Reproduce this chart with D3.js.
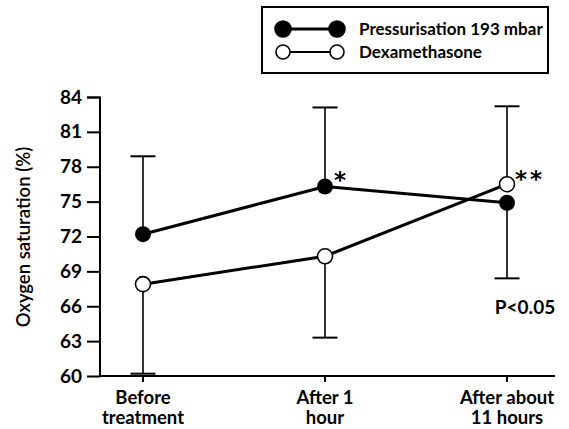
<!DOCTYPE html>
<html><head><meta charset="utf-8">
<script src="https://cdn.jsdelivr.net/npm/d3@7"></script>
<style>body{margin:0;background:#fff}svg{display:block}</style>
</head><body>
<script>
const categories = [["Before","treatment"],["After 1","hour"],["After about","11 hours"]];
const pressValues = [72.2, 76.3, 74.9];
const pressUpper = [78.9, 83.1, null];
const pressLower = [null, null, 68.4];
const dexaValues = [67.9, 70.3, 76.5];
const dexaUpper = [null, null, 83.2];
const dexaLower = [60.2, 63.3, null];
const yTicks = [60,63,66,69,72,75,78,81,84];
const seriesNames = ["Pressurisation 193 mbar","Dexamethasone"];
const annotations = [{i:1, text:"*"},{i:2, text:"**"}];
const pText = "P<0.05";

const W=569,H=429;
const font = "Lato, 'Open Sans', sans-serif";
const svg = d3.select("body").append("svg").attr("width",W).attr("height",H);
const x = d3.scalePoint().domain(d3.range(3)).range([143,507]);
const y = d3.scaleLinear().domain([60,84]).range([376,97]);

// axes
const yAxis = d3.axisLeft(y).tickValues(yTicks).tickSize(13).tickPadding(5);
const gy = svg.append("g").attr("transform","translate(100,0)").call(yAxis);
gy.select(".domain").attr("stroke-width",2).attr("d","M-13,97.5H0V376");
gy.selectAll(".tick line").attr("stroke-width",2);
gy.selectAll(".tick text").attr("font-family",font).attr("font-size",19).attr("font-weight","bold").attr("fill","#000");

svg.append("line").attr("x1",100).attr("x2",555).attr("y1",376).attr("y2",376).attr("stroke","#000").attr("stroke-width",2);
categories.forEach((c,i)=>{
  svg.append("line").attr("x1",x(i)).attr("x2",x(i)).attr("y1",376).attr("y2",382).attr("stroke","#000").attr("stroke-width",2);
  const t = svg.append("text").attr("x",x(i)).attr("text-anchor","middle").attr("font-family",font).attr("font-size",18.5).attr("font-weight","bold");
  t.append("tspan").attr("x",x(i)).attr("y",404).text(c[0]);
  t.append("tspan").attr("x",x(i)).attr("y",424).text(c[1]);
});

svg.append("text").attr("transform","translate(30,237) rotate(-90)").attr("text-anchor","middle")
  .attr("font-family",font).attr("font-size",18.5).attr("font-weight","600").text("Oxygen saturation (%)");

// error bars
function errBars(vals, ups, lows){
  vals.forEach((v,i)=>{
    [ups[i], lows[i]].forEach(e=>{
      if(e==null) return;
      svg.append("line").attr("x1",x(i)).attr("x2",x(i)).attr("y1",y(v)).attr("y2",y(e)).attr("stroke","#000").attr("stroke-width",1.6);
      svg.append("line").attr("x1",x(i)-12.5).attr("x2",x(i)+12.5).attr("y1",y(e)).attr("y2",y(e)).attr("stroke","#000").attr("stroke-width",2);
    });
  });
}
errBars(pressValues, pressUpper, pressLower);
errBars(dexaValues, dexaUpper, dexaLower);

const line = d3.line().x((d,i)=>x(i)).y(d=>y(d));
svg.append("path").attr("d",line(pressValues)).attr("fill","none").attr("stroke","#000").attr("stroke-width",3);
svg.append("path").attr("d",line(dexaValues)).attr("fill","none").attr("stroke","#000").attr("stroke-width",3);
svg.selectAll(".pp").data(pressValues).enter().append("circle").attr("cx",(d,i)=>x(i)).attr("cy",d=>y(d)).attr("r",8).attr("fill","#000");
svg.selectAll(".dp").data(dexaValues).enter().append("circle").attr("cx",(d,i)=>x(i)).attr("cy",d=>y(d)).attr("r",7.5).attr("fill","#fff").attr("stroke","#000").attr("stroke-width",1.6);

// annotations
const afont = "'DejaVu Sans', sans-serif";
svg.append("text").attr("x",x(1)+15).attr("y",y(pressValues[1])+1).attr("text-anchor","middle").attr("font-family",afont).attr("font-size",23).attr("font-weight","bold").text(annotations[0].text);
svg.append("text").attr("x",x(2)+23).attr("y",y(dexaValues[2])+3).attr("text-anchor","middle").attr("font-family",afont).attr("font-size",23).attr("font-weight","bold").attr("letter-spacing",3).text(annotations[1].text);
svg.append("text").attr("x",x(2)+18).attr("y",314).attr("text-anchor","middle").attr("font-family",font).attr("font-size",19).attr("font-weight","bold").text(pText);

// legend
svg.append("rect").attr("x",262).attr("y",7).attr("width",286).attr("height",66).attr("fill","#fff").attr("stroke","#000").attr("stroke-width",2);
const legY=[29,52];
seriesNames.forEach((n,i)=>{
  svg.append("line").attr("x1",283).attr("x2",337).attr("y1",legY[i]).attr("y2",legY[i]).attr("stroke","#000").attr("stroke-width",i==0?3:2);
  [283,337].forEach(cx=>{
    svg.append("circle").attr("cx",cx).attr("cy",legY[i]).attr("r",i==0?8:7).attr("fill",i==0?"#000":"#fff").attr("stroke","#000").attr("stroke-width",1.6);
  });
  svg.append("text").attr("x",359).attr("y",legY[i]+6).attr("font-family",font).attr("font-size",17).attr("font-weight","bold").text(n);
});
</script>
</body></html>
